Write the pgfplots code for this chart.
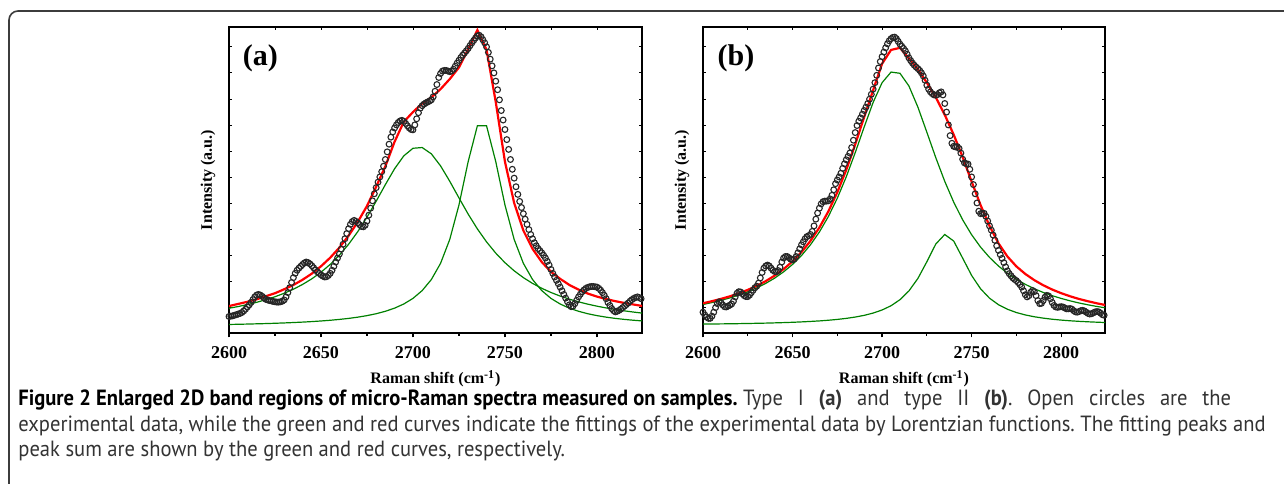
\documentclass[border=0pt]{standalone}
\usepackage{pgfplots}
\pgfplotsset{compat=1.18}
\usepackage{fontspec}
\setmainfont{Liberation Serif}
\newfontfamily\capfont[FakeStretch=0.935]{PT Sans}
\definecolor{fitgreen}{RGB}{0,128,0}
\definecolor{fitred}{RGB}{255,0,0}
\definecolor{frameclr}{RGB}{60,60,60}

\pgfplotsset{
  panelbase/.style={
    scale only axis, height=153pt, anchor=south west,
    xmin=2600, xmax=2824.5, ymin=0, ymax=1,
  },
  panelmain/.style={panelbase,
    axis line style={line width=0.9pt},
    xtick={2600,2650,2700,2750,2800},
    minor xtick={2625,2675,2725,2775},
    xtick pos=bottom, tick align=outside,
    major tick length=2.2pt, minor tick length=1.3pt,
    tick style={line width=0.6pt, black},
    ytick=\empty,
    /pgf/number format/assume math mode=true,
    /pgf/number format/set thousands separator={},
    xticklabel style={font=\bfseries\fontsize{9}{10}\selectfont, yshift=-0.8pt},
    xlabel={Raman shift (cm\textsuperscript{-1})},
    ylabel={Intensity (a.u.)},
    label style={font=\bfseries\fontsize{8}{9}\selectfont},
    xlabel style={at={(axis description cs:0.5,-0.150)}, anchor=center},
  },
  paneltick/.style={panelbase,
    axis line style={line width=0.4pt},
    xtick={2600,2625,2650,2675,2700,2725,2750,2775,2800},
    xtick pos=top,
    ytick={0.085,0.17,0.255,0.34,0.425,0.51,0.595,0.68,0.765,0.85,0.935},
    ytick pos=both, tick align=inside, major tick length=1.6pt,
    tick style={line width=0.4pt, black},
    xticklabels={}, yticklabels={},
  },
  expdata/.style={only marks, mark=o, mark size=1.45pt,
    mark options={line width=0.55pt, draw=black!85}},
  greenfit/.style={fitgreen, line width=0.6pt, no marks},
  redfit/.style={fitred, line width=1.1pt, no marks},
}

\begin{document}
\begin{tikzpicture}
\path[use as bounding box] (0,0) rectangle (642pt,241.5pt);
\draw[frameclr, line width=0.8pt, rounded corners=4.5pt] (4.5pt,-2pt) -- (4.5pt,236pt) -- (646pt,236pt);

% ---------------- panel (a) ----------------
\begin{axis}[paneltick, width=206.5pt, at={(114.5pt,75pt)}]
\end{axis}
\begin{axis}[panelmain, width=206.5pt, at={(114.5pt,75pt)},
  ylabel style={at={(axis description cs:-0.051,0.5)}, anchor=center}]
\addplot[expdata] coordinates {
(2600,0.054)(2601,0.055)(2602,0.056)(2603,0.058)(2604,0.060)(2605,0.062)(2606,0.064)(2607,0.067)(2608,0.072)(2609,0.078)
(2610,0.085)(2611,0.092)(2612,0.100)(2613,0.109)(2614,0.118)(2615,0.124)(2616,0.126)(2617,0.124)(2618,0.120)(2619,0.115)
(2620,0.110)(2621,0.108)(2622,0.106)(2623,0.105)(2624,0.103)(2625,0.102)(2626,0.101)(2627,0.101)(2628,0.102)(2629,0.104)
(2630,0.108)(2631,0.118)(2632,0.132)(2633,0.148)(2634,0.165)(2635,0.181)(2636,0.195)(2637,0.205)(2638,0.212)(2639,0.218)
(2640,0.224)(2641,0.229)(2642,0.232)(2643,0.230)(2644,0.226)(2645,0.220)(2646,0.213)(2647,0.206)(2648,0.200)(2649,0.195)
(2650,0.190)(2651,0.186)(2652,0.183)(2653,0.184)(2654,0.188)(2655,0.195)(2656,0.205)(2657,0.218)(2658,0.232)(2659,0.245)
(2660,0.258)(2661,0.274)(2662,0.290)(2663,0.308)(2664,0.325)(2665,0.341)(2666,0.355)(2667,0.364)(2668,0.368)(2669,0.365)
(2670,0.360)(2671,0.354)(2672,0.348)(2673,0.347)(2674,0.352)(2675,0.366)(2676,0.385)(2677,0.408)(2678,0.432)(2679,0.455)
(2680,0.475)(2681,0.493)(2682,0.510)(2683,0.527)(2684,0.545)(2685,0.567)(2686,0.592)(2687,0.617)(2688,0.640)(2689,0.657)
(2690,0.670)(2691,0.680)(2692,0.688)(2693,0.693)(2694,0.695)(2695,0.692)(2696,0.685)(2697,0.677)(2698,0.670)(2699,0.665)
(2700,0.664)(2701,0.680)(2702,0.700)(2703,0.720)(2704,0.735)(2705,0.743)(2706,0.748)(2707,0.752)(2708,0.755)(2709,0.758)
(2710,0.762)(2711,0.772)(2712,0.790)(2713,0.812)(2714,0.835)(2715,0.848)(2716,0.856)(2717,0.858)(2718,0.858)(2719,0.856)
(2720,0.854)(2721,0.856)(2722,0.862)(2723,0.872)(2724,0.882)(2725,0.891)(2726,0.900)(2727,0.908)(2728,0.915)(2729,0.922)
(2730,0.930)(2731,0.939)(2732,0.948)(2733,0.956)(2734,0.964)(2735,0.971)(2736,0.973)(2737,0.968)(2738,0.958)(2739,0.948)
(2740,0.935)(2741,0.917)(2742,0.895)(2743,0.873)(2744,0.850)(2745,0.823)(2746,0.795)(2747,0.762)(2748,0.727)(2749,0.696)
(2750,0.665)(2751,0.632)(2752,0.600)(2753,0.567)(2754,0.535)(2755,0.506)(2756,0.478)(2757,0.453)(2758,0.430)(2759,0.410)
(2760,0.390)(2761,0.372)(2762,0.355)(2763,0.338)(2764,0.322)(2765,0.308)(2766,0.295)(2767,0.285)(2768,0.276)(2769,0.269)
(2770,0.262)(2771,0.254)(2772,0.245)(2773,0.234)(2774,0.222)(2775,0.208)(2776,0.195)(2777,0.183)(2778,0.172)(2779,0.161)
(2780,0.150)(2781,0.138)(2782,0.126)(2783,0.114)(2784,0.102)(2785,0.092)(2786,0.086)(2787,0.088)(2788,0.096)(2789,0.107)
(2790,0.118)(2791,0.127)(2792,0.135)(2793,0.141)(2794,0.146)(2795,0.149)(2796,0.151)(2797,0.152)(2798,0.152)(2799,0.151)
(2800,0.150)(2801,0.146)(2802,0.140)(2803,0.132)(2804,0.123)(2805,0.112)(2806,0.100)(2807,0.090)(2808,0.080)(2809,0.073)
(2810,0.069)(2811,0.071)(2812,0.074)(2813,0.078)(2814,0.083)(2815,0.088)(2816,0.093)(2817,0.098)(2818,0.104)(2819,0.109)
(2820,0.113)(2821,0.116)(2822,0.118)(2823,0.116)(2824,0.112)
};
\addplot[greenfit] coordinates {
(2600,0.0809)(2605,0.0865)(2610,0.0929)(2615,0.1003)(2620,0.1088)(2625,0.1185)(2630,0.1299)(2635,0.1431)(2640,0.1587)(2645,0.1770)
(2650,0.1986)(2655,0.2241)(2660,0.2543)(2665,0.2899)(2670,0.3313)(2675,0.3785)(2680,0.4307)(2685,0.4850)(2690,0.5367)(2695,0.5788)
(2700,0.6037)(2705,0.6061)(2710,0.5854)(2715,0.5461)(2720,0.4958)(2725,0.4415)(2730,0.3886)(2735,0.3403)(2740,0.2977)(2745,0.2610)
(2750,0.2298)(2755,0.2033)(2760,0.1810)(2765,0.1621)(2770,0.1461)(2775,0.1324)(2780,0.1207)(2785,0.1106)(2790,0.1019)(2795,0.0943)
(2800,0.0877)(2805,0.0819)(2810,0.0768)(2815,0.0723)(2820,0.0683)(2825,0.0647)
};
\addplot[greenfit] coordinates {
(2600,0.0279)(2605,0.0285)(2610,0.0292)(2615,0.0300)(2620,0.0308)(2625,0.0318)(2630,0.0329)(2635,0.0342)(2640,0.0356)(2645,0.0373)
(2650,0.0393)(2655,0.0416)(2660,0.0444)(2665,0.0477)(2670,0.0518)(2675,0.0568)(2680,0.0630)(2685,0.0710)(2690,0.0812)(2695,0.0948)
(2700,0.1131)(2705,0.1386)(2710,0.1748)(2715,0.2277)(2720,0.3059)(2725,0.4184)(2730,0.5600)(2735,0.6770)(2740,0.6770)(2745,0.5600)
(2750,0.4184)(2755,0.3059)(2760,0.2277)(2765,0.1748)(2770,0.1386)(2775,0.1131)(2780,0.0948)(2785,0.0812)(2790,0.0710)(2795,0.0630)
(2800,0.0568)(2805,0.0518)(2810,0.0477)(2815,0.0444)(2820,0.0416)(2825,0.0393)
};
\addplot[redfit] coordinates {
(2600,0.088)(2605,0.095)(2610,0.102)(2615,0.110)(2620,0.120)(2625,0.130)(2630,0.143)(2635,0.157)(2640,0.174)(2645,0.194)
(2650,0.218)(2655,0.246)(2660,0.279)(2665,0.318)(2670,0.363)(2675,0.415)(2680,0.478)(2685,0.545)(2690,0.625)(2695,0.690)
(2700,0.722)(2705,0.750)(2710,0.770)(2715,0.797)(2720,0.830)(2725,0.868)(2730,0.927)(2735,0.990)(2740,0.925)(2745,0.755)
(2750,0.560)(2755,0.425)(2760,0.335)(2765,0.275)(2770,0.232)(2775,0.200)(2780,0.177)(2785,0.157)(2790,0.142)(2795,0.129)
(2800,0.119)(2805,0.111)(2810,0.104)(2815,0.098)(2820,0.093)(2825,0.088)
};
\node[font=\bfseries\fontsize{15}{17}\selectfont] at (rel axis cs:0.076,0.899) {(a)};
\end{axis}

% ---------------- panel (b) ----------------
\begin{axis}[paneltick, width=201pt, at={(351.5pt,75pt)}]
\end{axis}
\begin{axis}[panelmain, width=201pt, at={(351.5pt,75pt)},
  ylabel style={at={(axis description cs:-0.052,0.5)}, anchor=center}]
\addplot[expdata] coordinates {
(2600,0.068)(2601,0.059)(2602,0.052)(2603,0.048)(2604,0.048)(2605,0.055)(2606,0.068)(2607,0.083)(2608,0.096)(2609,0.102)
(2610,0.100)(2611,0.092)(2612,0.086)(2613,0.085)(2614,0.088)(2615,0.091)(2616,0.095)(2617,0.104)(2618,0.118)(2619,0.130)
(2620,0.135)(2621,0.134)(2622,0.128)(2623,0.122)(2624,0.119)(2625,0.119)(2626,0.124)(2627,0.132)(2628,0.140)(2629,0.148)
(2630,0.153)(2631,0.163)(2632,0.180)(2633,0.198)(2634,0.212)(2635,0.219)(2636,0.222)(2637,0.219)(2638,0.212)(2639,0.205)
(2640,0.201)(2641,0.200)(2642,0.204)(2643,0.215)(2644,0.232)(2645,0.245)(2646,0.250)(2647,0.250)(2648,0.246)(2649,0.241)
(2650,0.239)(2651,0.242)(2652,0.250)(2653,0.262)(2654,0.275)(2655,0.288)(2656,0.298)(2657,0.308)(2658,0.315)(2659,0.318)
(2660,0.322)(2661,0.332)(2662,0.350)(2663,0.372)(2664,0.392)(2665,0.408)(2666,0.422)(2667,0.429)(2668,0.431)(2669,0.431)
(2670,0.432)(2671,0.438)(2672,0.450)(2673,0.468)(2674,0.488)(2675,0.500)(2676,0.510)(2677,0.522)(2678,0.538)(2679,0.553)
(2680,0.566)(2681,0.577)(2682,0.588)(2683,0.606)(2684,0.630)(2685,0.655)(2686,0.678)(2687,0.692)(2688,0.703)(2689,0.715)
(2690,0.727)(2691,0.738)(2692,0.750)(2693,0.764)(2694,0.780)(2695,0.797)(2696,0.818)(2697,0.842)(2698,0.866)(2699,0.887)
(2700,0.903)(2701,0.918)(2702,0.932)(2703,0.945)(2704,0.955)(2705,0.962)(2706,0.966)(2707,0.967)(2708,0.962)(2709,0.953)
(2710,0.944)(2711,0.937)(2712,0.930)(2713,0.922)(2714,0.911)(2715,0.899)(2716,0.890)(2717,0.882)(2718,0.875)(2719,0.869)
(2720,0.864)(2721,0.858)(2722,0.850)(2723,0.840)(2724,0.826)(2725,0.810)(2726,0.797)(2727,0.788)(2728,0.782)(2729,0.778)
(2730,0.777)(2731,0.779)(2732,0.785)(2733,0.788)(2734,0.778)(2735,0.750)(2736,0.722)(2737,0.680)(2738,0.645)(2739,0.620)
(2740,0.610)(2741,0.608)(2742,0.609)(2743,0.603)(2744,0.588)(2745,0.568)(2746,0.556)(2747,0.553)(2748,0.552)(2749,0.535)
(2750,0.510)(2751,0.485)(2752,0.455)(2753,0.425)(2754,0.398)(2755,0.390)(2756,0.391)(2757,0.391)(2758,0.381)(2759,0.366)
(2760,0.350)(2761,0.336)(2762,0.320)(2763,0.303)(2764,0.285)(2765,0.270)(2766,0.256)(2767,0.244)(2768,0.230)(2769,0.216)
(2770,0.203)(2771,0.194)(2772,0.187)(2773,0.180)(2774,0.175)(2775,0.171)(2776,0.165)(2777,0.158)(2778,0.150)(2779,0.138)
(2780,0.125)(2781,0.118)(2782,0.122)(2783,0.133)(2784,0.139)(2785,0.135)(2786,0.122)(2787,0.106)(2788,0.096)(2789,0.097)
(2790,0.106)(2791,0.117)(2792,0.123)(2793,0.121)(2794,0.112)(2795,0.100)(2796,0.090)(2797,0.085)(2798,0.084)(2799,0.085)
(2800,0.086)(2801,0.085)(2802,0.082)(2803,0.079)(2804,0.079)(2805,0.080)(2806,0.078)(2807,0.073)(2808,0.069)(2809,0.068)
(2810,0.070)(2811,0.073)(2812,0.074)(2813,0.072)(2814,0.068)(2815,0.064)(2816,0.062)(2817,0.063)(2818,0.066)(2819,0.069)
(2820,0.070)(2821,0.069)(2822,0.065)(2823,0.060)(2824,0.058)
};
\addplot[greenfit] coordinates {
(2600,0.0932)(2605,0.0995)(2610,0.1066)(2615,0.1147)(2620,0.1240)(2625,0.1348)(2630,0.1474)(2635,0.1621)(2640,0.1793)(2645,0.1998)
(2650,0.2241)(2655,0.2532)(2660,0.2882)(2665,0.3302)(2670,0.3806)(2675,0.4405)(2680,0.5104)(2685,0.5893)(2690,0.6731)(2695,0.7535)
(2700,0.8180)(2705,0.8527)(2710,0.8487)(2715,0.8071)(2720,0.7382)(2725,0.6562)(2730,0.5729)(2735,0.4956)(2740,0.4277)(2745,0.3698)
(2750,0.3212)(2755,0.2807)(2760,0.2470)(2765,0.2189)(2770,0.1954)(2775,0.1757)(2780,0.1589)(2785,0.1447)(2790,0.1325)(2795,0.1220)
(2800,0.1130)(2805,0.1051)(2810,0.0981)(2815,0.0921)(2820,0.0867)(2825,0.0819)
};
\addplot[greenfit] coordinates {
(2600,0.0291)(2605,0.0294)(2610,0.0298)(2615,0.0301)(2620,0.0306)(2625,0.0311)(2630,0.0317)(2635,0.0323)(2640,0.0331)(2645,0.0340)
(2650,0.0350)(2655,0.0363)(2660,0.0378)(2665,0.0395)(2670,0.0417)(2675,0.0444)(2680,0.0478)(2685,0.0521)(2690,0.0577)(2695,0.0651)
(2700,0.0752)(2705,0.0891)(2710,0.1089)(2715,0.1375)(2720,0.1783)(2725,0.2327)(2730,0.2908)(2735,0.3219)(2740,0.3005)(2745,0.2447)
(2750,0.1882)(2755,0.1445)(2760,0.1138)(2765,0.0925)(2770,0.0776)(2775,0.0669)(2780,0.0590)(2785,0.0531)(2790,0.0486)(2795,0.0450)
(2800,0.0422)(2805,0.0399)(2810,0.0381)(2815,0.0366)(2820,0.0353)(2825,0.0342)
};
\addplot[redfit] coordinates {
(2600,0.0973)(2605,0.1039)(2610,0.1114)(2615,0.1198)(2620,0.1296)(2625,0.1409)(2630,0.1541)(2635,0.1694)(2640,0.1874)(2645,0.2088)
(2650,0.2341)(2655,0.2645)(2660,0.3010)(2665,0.3447)(2670,0.3973)(2675,0.4599)(2680,0.5332)(2685,0.6164)(2690,0.7058)(2695,0.7936)
(2700,0.8800)(2705,0.9250)(2710,0.9320)(2715,0.8970)(2720,0.8620)(2725,0.8180)(2730,0.7700)(2735,0.7130)(2740,0.6480)(2745,0.5750)
(2750,0.4950)(2755,0.4180)(2760,0.3500)(2765,0.2930)(2770,0.2500)(2775,0.2176)(2780,0.1929)(2785,0.1728)(2790,0.1561)(2795,0.1420)
(2800,0.1302)(2805,0.1200)(2810,0.1112)(2815,0.1037)(2820,0.0970)(2825,0.0911)
};
\node[font=\bfseries\fontsize{15}{17}\selectfont] at (rel axis cs:0.082,0.899) {(b)};
\end{axis}

% ---------------- caption ----------------
\begin{scope}[every node/.style={anchor=base west, inner sep=0pt, font=\capfont\fontsize{11}{13}\selectfont\frenchspacing, text=black!80}]
\node at (9pt,38.8pt) {{\bfseries\color{black}Figure 2 Enlarged 2D band regions of micro-Raman spectra measured on samples.} \makebox[244pt][s]{Type I {\bfseries(a)} and type II {\bfseries(b)}. Open circles are the}};
\node at (9pt,26pt) {experimental data, while the green and red curves indicate the fittings of the experimental data by Lorentzian functions. The fitting peaks and};
\node at (9pt,13.3pt) {peak sum are shown by the green and red curves, respectively.};
\end{scope}
\end{tikzpicture}
\end{document}
